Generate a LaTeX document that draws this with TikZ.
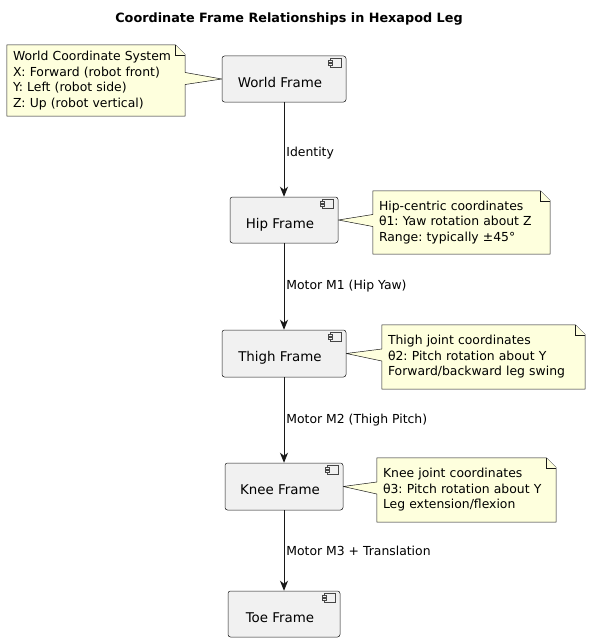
\documentclass[tikz,border=0pt]{standalone}
\usepackage{fontspec}
\setmainfont{DejaVu Sans}
\usepackage{tikz}
\usetikzlibrary{arrows.meta,positioning,calc,backgrounds}
\frenchspacing

\definecolor{framefill}{HTML}{F1F1F1}
\definecolor{frameline}{HTML}{181818}
\definecolor{notefill}{HTML}{FEFFDD}

\tikzset{
  frame/.style={draw=frameline, fill=framefill, line width=0.5pt, rounded corners=2.5pt,
    minimum height=46pt, inner sep=0pt, text height=17pt, text depth=1pt,
    font=\fontsize{13.4}{16}\selectfont},
  icon/.style={draw=frameline!80, fill=framefill, line width=0.3pt},
  note/.style={minimum height=64pt, inner xsep=6pt, inner ysep=0pt, align=left,
    font=\fontsize{12.4}{15.5}\selectfont},
  noteline/.style={draw=frameline, fill=notefill, line width=0.5pt},
  link/.style={-{Stealth[length=10pt,width=8pt,inset=3pt]}, line width=0.8pt, draw=frameline},
  linklabel/.style={midway, right, inner sep=2pt, font=\fontsize{12.4}{15}\selectfont}
}

\begin{document}
\begin{tikzpicture}[x=1pt,y=-1pt]
\useasboundingbox (0,0) rectangle (590,642);

% title
\node[font=\bfseries\fontsize{12.8}{16}\selectfont] (title) at (289,19) {Coordinate Frame Relationships in Hexapod Leg};

% frames
\node[frame, minimum width=124pt] (world) at (284,79) {World Frame\hspace*{8pt}};
\node[frame, minimum width=108pt] (hip) at (284,220) {Hip Frame\hspace*{8pt}};
\node[frame, minimum width=124pt, minimum height=47pt] (thigh) at (284,353.5) {Thigh Frame\hspace*{8pt}};
\node[frame, minimum width=118pt, minimum height=47pt] (knee) at (284,486.5) {Knee Frame\hspace*{8pt}};
\node[frame, minimum width=112pt] (toe) at (284,614) {Toe Frame\hspace*{8pt}};

% component icons
\foreach \n in {world,hip,thigh,knee,toe} {
  \begin{scope}[shift={(\n.north east)}]
    \draw[icon] (-16,2.5) rectangle (-5,11);
    \draw[icon] (-18,4.5) rectangle (-14,6.5);
    \draw[icon] (-18,7.5) rectangle (-14,9.5);
  \end{scope}
}

% links
\draw[link] (world) -- node[linklabel, yshift=-4pt] {Identity} (hip);
\draw[link] (hip) -- node[linklabel] {Motor M1 (Hip Yaw)} (thigh);
\draw[link] (thigh) -- node[linklabel] {Motor M2 (Thigh Pitch)} (knee);
\draw[link] (knee) -- node[linklabel] {Motor M3 + Translation} (toe);

% notes
\node[note, text width=166pt, minimum height=71pt] (wnote) at (96,80.5) {World Coordinate System\\X: Forward (robot front)\\Y: Left (robot side)\\Z: Up (robot vertical)};
\node[note, text width=165pt, minimum height=63pt] (hnote) at (461.5,222.5) {Hip-centric coordinates\\θ1: Yaw rotation about Z\\Range: typically ±45°};
\node[note, text width=191pt] (tnote) at (483.5,357) {Thigh joint coordinates\\θ2: Pitch rotation about Y\\Forward/backward leg swing};
\node[note, text width=167pt] (knote) at (466.5,490) {Knee joint coordinates\\θ3: Pitch rotation about Y\\Leg extension/flexion};

\begin{scope}[on background layer]
  % note on the left of its frame
  \draw[noteline] (wnote.north west) -- ($(wnote.north east)+(-10,0)$) -- ($(wnote.north east)+(0,10)$)
    -- ($(wnote.east)+(0,-8)$) -- (world.west) -- ($(wnote.east)+(0,4)$)
    -- (wnote.south east) -- (wnote.south west) -- cycle;
  \draw[noteline] ($(wnote.north east)+(-10,0)$) -- ($(wnote.north east)+(-10,10)$) -- ($(wnote.north east)+(0,10)$);
  % notes on the right of their frames
  \foreach \m/\n in {hnote/hip,tnote/thigh,knote/knee} {
    \draw[noteline] (\m.north west) -- ($(\m.north east)+(-10,0)$) -- ($(\m.north east)+(0,10)$)
      -- (\m.south east) -- (\m.south west) -- ($(\m.west)+(0,4)$) -- (\n.east)
      -- ($(\m.west)+(0,-8)$) -- cycle;
    \draw[noteline] ($(\m.north east)+(-10,0)$) -- ($(\m.north east)+(-10,10)$) -- ($(\m.north east)+(0,10)$);
  }
\end{scope}
\end{tikzpicture}
\end{document}
